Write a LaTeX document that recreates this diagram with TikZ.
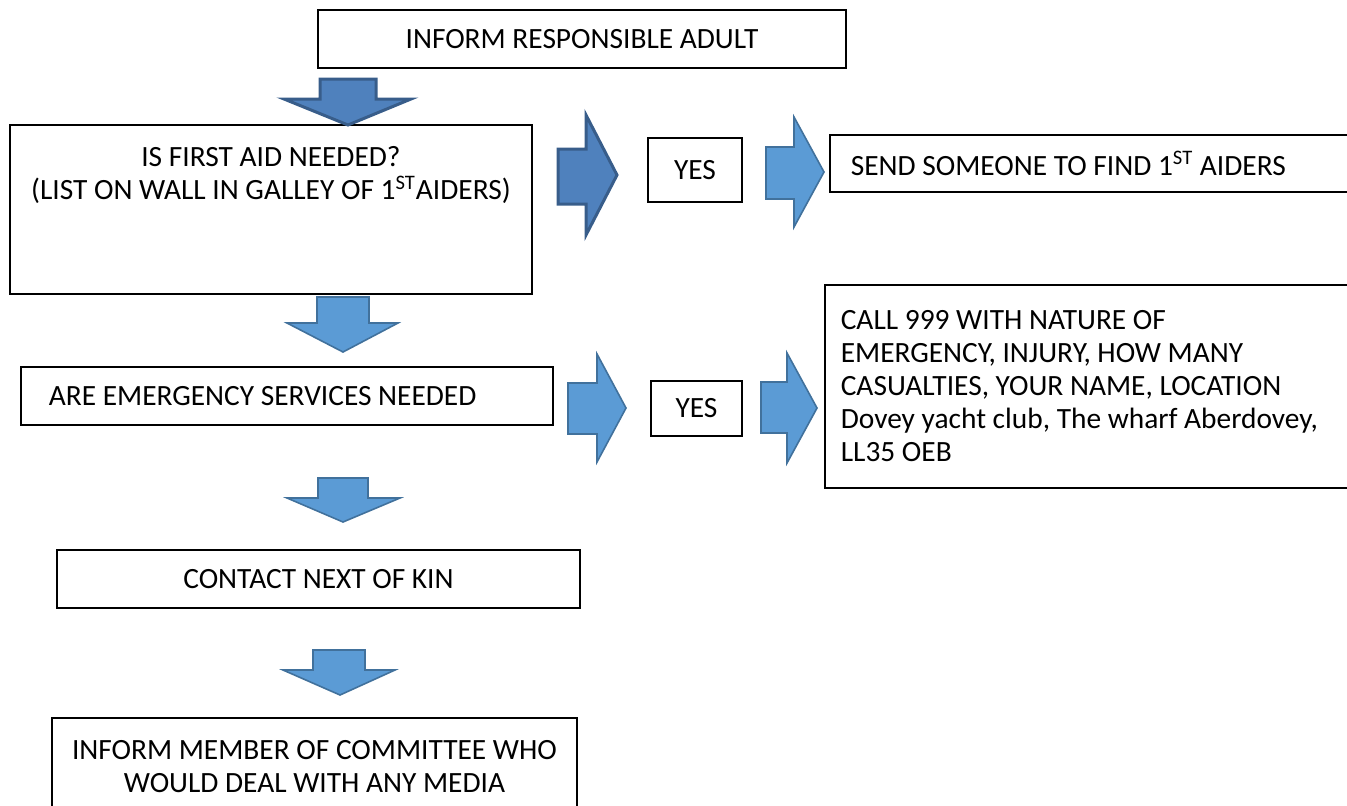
\documentclass[tikz,border=0pt]{standalone}
\usepackage{fontspec}
\setmainfont{Carlito}
\usetikzlibrary{positioning}
\definecolor{darkfill}{HTML}{4F81BD}
\definecolor{darkline}{HTML}{385D8A}
\definecolor{lightfill}{HTML}{5B9BD5}
\definecolor{lightline}{HTML}{41719C}
\begin{document}
\begin{tikzpicture}[
        x=0.5pt, y=-0.5pt,
        txt/.style={inner sep=0pt, font=\fontsize{14.7}{16.5}\selectfont},
        box/.style={rectangle, draw, line width=0.8pt, inner sep=0pt, align=center, txt},
        leftbox/.style={box, anchor=north west, align=flush left},
        darkarrow/.style={draw=darkline, fill=darkfill, line width=1.5pt},
        lightarrow/.style={draw=lightline, fill=lightfill, line width=0.8pt}
    ]
        \useasboundingbox (0,0) rectangle (1347,805);

        % left column
        \node[box, minimum width=264pt, minimum height=29pt] (adult) at (582,39) {INFORM RESPONSIBLE ADULT};
        \node[box, minimum width=261pt, minimum height=84.5pt] (firstaid) at (271,209.5) {};
        \node[txt, align=center, below=11pt of firstaid.north] (firstaidtxt) {IS FIRST AID NEEDED?\\(LIST ON WALL IN GALLEY OF 1\textsuperscript{ST}AIDERS)};
        \node[leftbox, inner xsep=14pt, text width=238pt, minimum height=29pt] (emerg) at (20,366) {ARE EMERGENCY SERVICES NEEDED};
        \node[box, minimum width=261.5pt, minimum height=29pt] (kin) at (318.5,579) {CONTACT NEXT OF KIN};
        \node[box, anchor=north, minimum width=262.5pt, minimum height=48.5pt] (media) at (314.5,717) {INFORM MEMBER OF COMMITTEE WHO\\WOULD DEAL WITH ANY MEDIA};

        % yes column
        \node[box, minimum width=47pt, minimum height=32pt] (yesaid) at (695,170) {YES};
        \node[box, minimum width=45.5pt, minimum height=27.5pt] (yescall) at (696.5,408.5) {YES};

        % right column
        \node[leftbox, inner xsep=10.5pt, text width=264.5pt, minimum height=28.5pt] (send) at (829,134) {SEND SOMEONE TO FIND 1\textsuperscript{ST} AIDERS};
        \node[leftbox, inner xsep=8pt, text width=272pt, minimum height=101.5pt] (call) at (824,284) {CALL 999 WITH NATURE OF\\EMERGENCY, INJURY, HOW MANY\\CASUALTIES, YOUR NAME, LOCATION\\Dovey yacht club, The wharf Aberdovey,\\LL35 OEB};

        % block arrows
        \draw[darkarrow] (320,79) -- (376,79) -- (376,99) -- (411,99) -- (348,125) -- (284,99) -- (320,99) -- cycle;
        \draw[darkarrow] (558,149) -- (586,149) -- (586,115) -- (617,175) -- (586,235) -- (586,204) -- (558,204) -- cycle;
        \draw[lightarrow] (766,147) -- (794,147) -- (794,117) -- (824,172) -- (794,227) -- (794,199) -- (766,199) -- cycle;
        \draw[lightarrow] (317,297) -- (369,297) -- (369,323) -- (398,323) -- (343,352) -- (287,323) -- (317,323) -- cycle;
        \draw[lightarrow] (568,383) -- (597,383) -- (597,354) -- (626,408) -- (597,462) -- (597,434) -- (568,434) -- cycle;
        \draw[lightarrow] (761,382) -- (787,382) -- (787,353) -- (817,408) -- (787,463) -- (787,433) -- (761,433) -- cycle;
        \draw[lightarrow] (318,478) -- (368,478) -- (368,498) -- (400,498) -- (343,522) -- (287,498) -- (318,498) -- cycle;
        \draw[lightarrow] (313,650) -- (365,650) -- (365,670) -- (395,670) -- (340,695) -- (283,670) -- (313,670) -- cycle;
    \end{tikzpicture}
\end{document}
